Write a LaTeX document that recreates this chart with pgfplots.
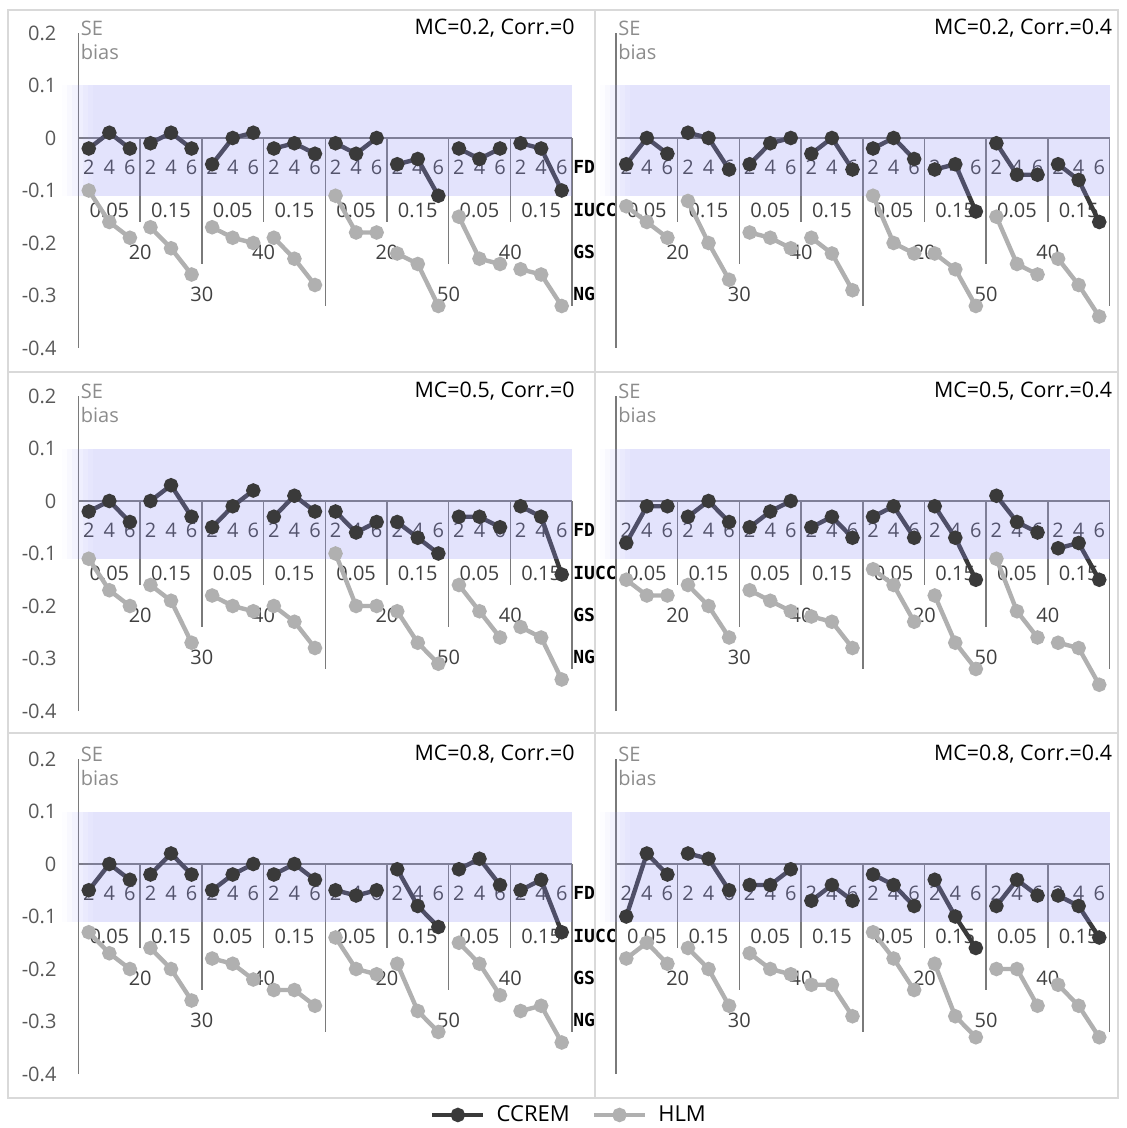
\documentclass[border=0pt]{standalone}
\usepackage{fontspec}
\setmainfont{Open Sans}
\newfontfamily\monof{DejaVu Sans Mono}
\usepackage{pgfplots}
\usepackage{pgfplotstable}
\pgfplotsset{compat=1.18}

\definecolor{ccremc}{HTML}{3A3A3A}
\definecolor{hlmc}{HTML}{B0B0B0}
\definecolor{bandc}{RGB}{145,145,245}
\definecolor{framec}{HTML}{D9D9D9}
\definecolor{axisc}{HTML}{7A7A7A}
\definecolor{tickc}{HTML}{595959}
\definecolor{labc}{HTML}{404040}
\definecolor{sec}{HTML}{8C8C8C}

\newcommand{\fs}{\fontsize{10}{12}\selectfont}

% x: 0..23 = FD 2/4/6 within 8 groups; nan rows break the lines between groups
\pgfplotstableread{
x c h
0 -0.02 -0.10
1 0.01 -0.16
2 -0.02 -0.19
2.5 nan nan
3 -0.01 -0.17
4 0.01 -0.21
5 -0.02 -0.26
5.5 nan nan
6 -0.05 -0.17
7 0.00 -0.19
8 0.01 -0.20
8.5 nan nan
9 -0.02 -0.19
10 -0.01 -0.23
11 -0.03 -0.28
11.5 nan nan
12 -0.01 -0.11
13 -0.03 -0.18
14 0.00 -0.18
14.5 nan nan
15 -0.05 -0.22
16 -0.04 -0.24
17 -0.11 -0.32
17.5 nan nan
18 -0.02 -0.15
19 -0.04 -0.23
20 -0.02 -0.24
20.5 nan nan
21 -0.01 -0.25
22 -0.02 -0.26
23 -0.10 -0.32
}\tabA

\pgfplotstableread{
x c h
0 -0.05 -0.13
1 0.00 -0.16
2 -0.03 -0.19
2.5 nan nan
3 0.01 -0.12
4 0.00 -0.20
5 -0.06 -0.27
5.5 nan nan
6 -0.05 -0.18
7 -0.01 -0.19
8 0.00 -0.21
8.5 nan nan
9 -0.03 -0.19
10 0.00 -0.22
11 -0.06 -0.29
11.5 nan nan
12 -0.02 -0.11
13 0.00 -0.20
14 -0.04 -0.22
14.5 nan nan
15 -0.06 -0.22
16 -0.05 -0.25
17 -0.14 -0.32
17.5 nan nan
18 -0.01 -0.15
19 -0.07 -0.24
20 -0.07 -0.26
20.5 nan nan
21 -0.05 -0.23
22 -0.08 -0.28
23 -0.16 -0.34
}\tabB

\pgfplotstableread{
x c h
0 -0.02 -0.11
1 0.00 -0.17
2 -0.04 -0.20
2.5 nan nan
3 0.00 -0.16
4 0.03 -0.19
5 -0.03 -0.27
5.5 nan nan
6 -0.05 -0.18
7 -0.01 -0.20
8 0.02 -0.21
8.5 nan nan
9 -0.03 -0.20
10 0.01 -0.23
11 -0.02 -0.28
11.5 nan nan
12 -0.02 -0.10
13 -0.06 -0.20
14 -0.04 -0.20
14.5 nan nan
15 -0.04 -0.21
16 -0.07 -0.27
17 -0.10 -0.31
17.5 nan nan
18 -0.03 -0.16
19 -0.03 -0.21
20 -0.05 -0.26
20.5 nan nan
21 -0.01 -0.24
22 -0.03 -0.26
23 -0.14 -0.34
}\tabC

\pgfplotstableread{
x c h
0 -0.08 -0.15
1 -0.01 -0.18
2 -0.01 -0.18
2.5 nan nan
3 -0.03 -0.16
4 0.00 -0.20
5 -0.04 -0.26
5.5 nan nan
6 -0.05 -0.17
7 -0.02 -0.19
8 0.00 -0.21
8.5 nan nan
9 -0.05 -0.22
10 -0.03 -0.23
11 -0.07 -0.28
11.5 nan nan
12 -0.03 -0.13
13 -0.01 -0.16
14 -0.07 -0.23
14.5 nan nan
15 -0.01 -0.18
16 -0.07 -0.27
17 -0.15 -0.32
17.5 nan nan
18 0.01 -0.11
19 -0.04 -0.21
20 -0.06 -0.26
20.5 nan nan
21 -0.09 -0.27
22 -0.08 -0.28
23 -0.15 -0.35
}\tabD

\pgfplotstableread{
x c h
0 -0.05 -0.13
1 0.00 -0.17
2 -0.03 -0.20
2.5 nan nan
3 -0.02 -0.16
4 0.02 -0.20
5 -0.02 -0.26
5.5 nan nan
6 -0.05 -0.18
7 -0.02 -0.19
8 0.00 -0.22
8.5 nan nan
9 -0.02 -0.24
10 0.00 -0.24
11 -0.03 -0.27
11.5 nan nan
12 -0.05 -0.14
13 -0.06 -0.20
14 -0.05 -0.21
14.5 nan nan
15 -0.01 -0.19
16 -0.08 -0.28
17 -0.12 -0.32
17.5 nan nan
18 -0.01 -0.15
19 0.01 -0.19
20 -0.04 -0.25
20.5 nan nan
21 -0.05 -0.28
22 -0.03 -0.27
23 -0.13 -0.34
}\tabE

\pgfplotstableread{
x c h
0 -0.10 -0.18
1 0.02 -0.15
2 -0.02 -0.19
2.5 nan nan
3 0.02 -0.16
4 0.01 -0.20
5 -0.05 -0.27
5.5 nan nan
6 -0.04 -0.17
7 -0.04 -0.20
8 -0.01 -0.21
8.5 nan nan
9 -0.07 -0.23
10 -0.04 -0.23
11 -0.07 -0.29
11.5 nan nan
12 -0.02 -0.13
13 -0.04 -0.18
14 -0.08 -0.24
14.5 nan nan
15 -0.03 -0.19
16 -0.10 -0.29
17 -0.16 -0.33
17.5 nan nan
18 -0.08 -0.20
19 -0.03 -0.20
20 -0.06 -0.27
20.5 nan nan
21 -0.06 -0.23
22 -0.08 -0.27
23 -0.14 -0.33
}\tabF

\pgfplotsset{
  panel/.style={
    scale only axis, width=246.75pt, height=157.5pt,
    xmin=-0.5, xmax=23.5, ymin=-0.4, ymax=0.2,
    axis x line=none, axis y line*=left,
    y axis line style={axisc, line width=0.75pt},
    ytick={-0.4,-0.3,-0.2,-0.1,0,0.1,0.2}, yticklabels={},
    major tick length=0pt,
    yticklabel style={font=\fs, text=tickc, anchor=east, xshift=-7.5pt},
    unbounded coords=jump, clip=false,
    legend image code/.code={\draw[mark repeat=2, mark phase=2, ##1]
      plot coordinates {(0cm,0cm) (0.45cm,0cm) (0.9cm,0cm)};},
  },
  ccremline/.style={ccremc, line width=2.2pt, mark=*, mark size=2.5pt},
  hlmline/.style={hlmc, line width=2.2pt, mark=*, mark size=2.5pt},
}
\tikzset{
  lab/.style={font=\fs, text=labc, inner sep=0pt},
  rowlab/.style={font=\monof\bfseries\fontsize{9}{11}\selectfont, anchor=west, inner sep=0.5pt},
}

\newcommand{\hierarchy}{%
  \draw[axisc, line width=0.75pt] (axis cs:-0.5,0) -- (axis cs:23.5,0);
  \pgfplotsinvokeforeach{2.5,8.5,14.5,20.5}{\draw[axisc, line width=0.75pt] (axis cs:##1,0) -- (axis cs:##1,-0.16);}
  \pgfplotsinvokeforeach{5.5,17.5}{\draw[axisc, line width=0.75pt] (axis cs:##1,0) -- (axis cs:##1,-0.24);}
  \pgfplotsinvokeforeach{11.5,23.5}{\draw[axisc, line width=0.75pt] (axis cs:##1,0) -- (axis cs:##1,-0.32);}
  \pgfplotsinvokeforeach{0,3,...,21}{%
    \node[lab] at (axis cs:##1,-0.055) {2};
    \node[lab] at (axis cs:{##1+1},-0.055) {4};
    \node[lab] at (axis cs:{##1+2},-0.055) {6};}
  \pgfplotsinvokeforeach{1,7,13,19}{%
    \node[lab] at (axis cs:##1,-0.137) {0.05};
    \node[lab] at (axis cs:{##1+3},-0.137) {0.15};}
  \node[lab] at (axis cs:2.5,-0.217) {20};
  \node[lab] at (axis cs:8.5,-0.217) {40};
  \node[lab] at (axis cs:14.5,-0.217) {20};
  \node[lab] at (axis cs:20.5,-0.217) {40};
  \node[lab] at (axis cs:5.5,-0.297) {30};
  \node[lab] at (axis cs:17.5,-0.297) {50};
}
\newcommand{\rowlabels}{%
  \node[rowlab] at (axis cs:23.5,-0.055) {FD};
  \node[rowlab] at (axis cs:23.5,-0.137) {IUCC};
  \node[rowlab] at (axis cs:23.5,-0.217) {GS};
  \node[rowlab] at (axis cs:23.5,-0.297) {NG};
}
\newcommand{\band}{%
  \fill[bandc, fill opacity=0.021] (axis cs:-1.3,-0.11) rectangle (axis cs:-1.05,0.1);
  \fill[bandc, fill opacity=0.062] (axis cs:-1.05,-0.11) rectangle (axis cs:-0.8,0.1);
  \fill[bandc, fill opacity=0.104] (axis cs:-0.8,-0.11) rectangle (axis cs:-0.55,0.1);
  \fill[bandc, fill opacity=0.146] (axis cs:-0.55,-0.11) rectangle (axis cs:-0.3,0.1);
  \fill[bandc, fill opacity=0.188] (axis cs:-0.3,-0.11) rectangle (axis cs:-0.05,0.1);
  \fill[bandc, fill opacity=0.229] (axis cs:-0.05,-0.11) rectangle (axis cs:0.2,0.1);
  \fill[bandc, fill opacity=0.25] (axis cs:0.2,-0.11) rectangle (axis cs:23.5,0.1);
}

% #1 x, #2 y of lower left corner, #3 title, #4 table, #5 1 = left column, #6 extra axis options
\newcommand{\panelplot}[6]{%
\begin{axis}[panel, at={(#1,#2)}, anchor=south west, #6]
  \hierarchy
  \ifnum#5=1 \rowlabels\fi
  \addplot[ccremline] table[x=x, y=c] {#4};
  \addplot[hlmline] table[x=x, y=h] {#4};
  \band
  \node[font=\fontsize{10.7}{13}\selectfont, anchor=east, inner sep=0pt, xshift=1.5pt] at (axis cs:23.5,0.2095) {#3};
  \node[font=\fs, text=sec, anchor=west, inner sep=0pt] at (axis cs:-0.5,0.2095) {\hspace*{1pt}SE};
  \node[font=\fs, text=sec, anchor=west, inner sep=0pt] at (axis cs:-0.5,0.164) {\hspace*{1pt}bias};
\end{axis}}

\begin{document}
\begin{tikzpicture}
\useasboundingbox (0,0) rectangle (563.5pt,-564pt);
\draw[framec, line width=0.75pt] (4pt,-5pt) rectangle (559pt,-549pt);
\draw[framec, line width=0.75pt] (297.5pt,-5pt) -- (297.5pt,-549pt);
\draw[framec, line width=0.75pt] (4pt,-186pt) -- (559pt,-186pt);
\draw[framec, line width=0.75pt] (4pt,-366.5pt) -- (559pt,-366.5pt);

\panelplot{39.25pt}{-174pt}{MC=0.2, Corr.=0}{\tabA}{1}{yticklabels={-0.4,-0.3,-0.2,-0.1,0,0.1,0.2}}
\panelplot{308pt}{-174pt}{MC=0.2, Corr.=0.4}{\tabB}{0}{}
\panelplot{39.25pt}{-355.5pt}{MC=0.5, Corr.=0}{\tabC}{1}{yticklabels={-0.4,-0.3,-0.2,-0.1,0,0.1,0.2}}
\panelplot{308pt}{-355.5pt}{MC=0.5, Corr.=0.4}{\tabD}{0}{}
\panelplot{39.25pt}{-537pt}{MC=0.8, Corr.=0}{\tabE}{1}{yticklabels={-0.4,-0.3,-0.2,-0.1,0,0.1,0.2}}
\panelplot{308pt}{-537pt}{MC=0.8, Corr.=0.4}{\tabF}{0}{legend entries={CCREM,HLM},
  legend style={draw=none, fill=none, at={(-0.0933,-0.130)}, anchor=center,
    legend columns=2, font=\fontsize{11}{13}\selectfont,
    /tikz/every odd column/.append style={column sep=3.5pt},
    /tikz/every even column/.append style={column sep=9pt}}}
\end{tikzpicture}
\end{document}
